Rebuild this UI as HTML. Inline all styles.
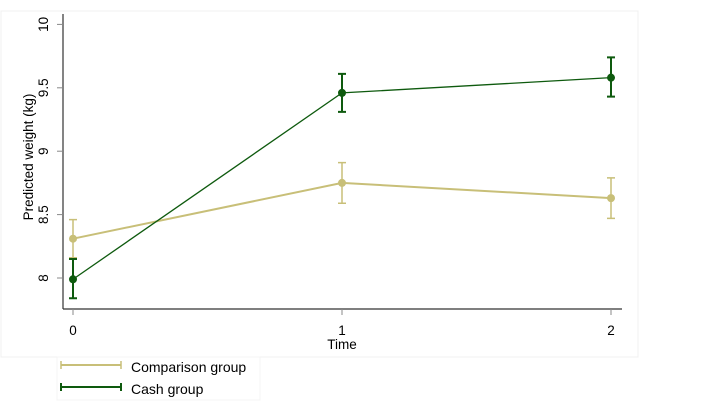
<!DOCTYPE html>
<html><head><meta charset="utf-8"><style>
body{margin:0;background:#fff;}
svg{display:block;font-family:"Liberation Sans",sans-serif;}
</style></head><body>
<svg width="720" height="414" viewBox="0 0 720 414" id="chart">
<rect x="1" y="11" width="637" height="346" fill="#fff" stroke="#f0f0f0"/>
<line x1="63" y1="14" x2="63" y2="309" stroke="#333" stroke-width="1.2"/>
<line x1="63" y1="309" x2="622" y2="309" stroke="#333" stroke-width="1.2"/>
<g id="yticks"></g><g id="xticks"></g><g id="series"></g>
<text transform="translate(33,157) rotate(-90)" text-anchor="middle" font-size="13.5" fill="#000">Predicted weight (kg)</text>
<text x="342" y="349" text-anchor="middle" font-size="13.5" fill="#000">Time</text>
<rect x="57" y="357" width="203" height="43" fill="#fff" stroke="#f4f4f4"/>
<g>
<line x1="61" y1="365" x2="121" y2="365" stroke="#c8bf78" stroke-width="2"/>
<line x1="61" y1="361" x2="61" y2="369" stroke="#c8bf78" stroke-width="1.5"/>
<line x1="121" y1="361" x2="121" y2="369" stroke="#c8bf78" stroke-width="1.5"/>
<text x="131" y="372" font-size="14">Comparison group</text></g>
<g>
<line x1="61" y1="387" x2="121" y2="387" stroke="#0e5a0e" stroke-width="2"/>
<line x1="61" y1="383" x2="61" y2="391" stroke="#0e5a0e" stroke-width="2"/>
<line x1="121" y1="383" x2="121" y2="391" stroke="#0e5a0e" stroke-width="2"/>
<text x="131" y="394" font-size="14">Cash group</text></g>
</svg>
<script>
const times=[0,1,2];
const yTicks=[8,8.5,9,9.5,10];
const yTickLabels=["8","8.5","9","9.5","10"];
const comparisonMean=[8.31,8.75,8.63];
const comparisonLow=[8.16,8.59,8.47];
const comparisonHigh=[8.46,8.91,8.79];
const cashMean=[7.99,9.46,9.58];
const cashLow=[7.84,9.31,9.43];
const cashHigh=[8.15,9.61,9.74];
const NS="http://www.w3.org/2000/svg";
const xs=t=>73+t*269;
const ys=v=>278-(v-8)*126.8;
function mk(tag,attrs,parent){const e=document.createElementNS(NS,tag);for(const k in attrs)e.setAttribute(k,attrs[k]);parent.appendChild(e);return e;}
const yt=document.getElementById('yticks');
yTicks.forEach((v,i)=>{
 const l=mk('line',{x1:57,x2:63,y1:ys(v),y2:ys(v),stroke:'#888'},yt);
 
 
 const t=mk('text',{transform:`translate(48,${ys(v)}) rotate(-90)`,'text-anchor':'middle','font-size':13.5},yt);
 t.textContent=yTickLabels[i];
 
 
});
const xt=document.getElementById('xticks');
times.forEach(t=>{
 const l=mk('line',{x1:xs(t),x2:xs(t),y1:309,y2:315,stroke:'#888'},xt);
 
 
 const tx=mk('text',{x:xs(t),y:335,'text-anchor':'middle','font-size':13.5},xt);
 tx.textContent=String(t);
 
 
});
const sg=document.getElementById('series');
function series(name,mean,lo,hi,color,lw,ew){
 const g=mk('g',{},sg);
 
 
 const p=mk('polyline',{points:times.map((t,i)=>xs(t)+','+ys(mean[i])).join(' '),fill:'none',stroke:color,'stroke-width':lw},g);
 
 
 times.forEach((t,i)=>{
  const x=xs(t);
  const e=mk('path',{d:`M${x-4},${ys(hi[i])}H${x+4}M${x},${ys(hi[i])}V${ys(lo[i])}M${x-4},${ys(lo[i])}H${x+4}`,stroke:color,'stroke-width':ew,fill:'none'},g);
  
  
  const c=mk('circle',{cx:x,cy:ys(mean[i]),r:4,fill:color},g);
  
  
 });
}
series('comparison-group',comparisonMean,comparisonLow,comparisonHigh,'#c8bf78',2,1.5);
series('cash-group',cashMean,cashLow,cashHigh,'#0e5a0e',1.3,2);
</script>
</body></html>
